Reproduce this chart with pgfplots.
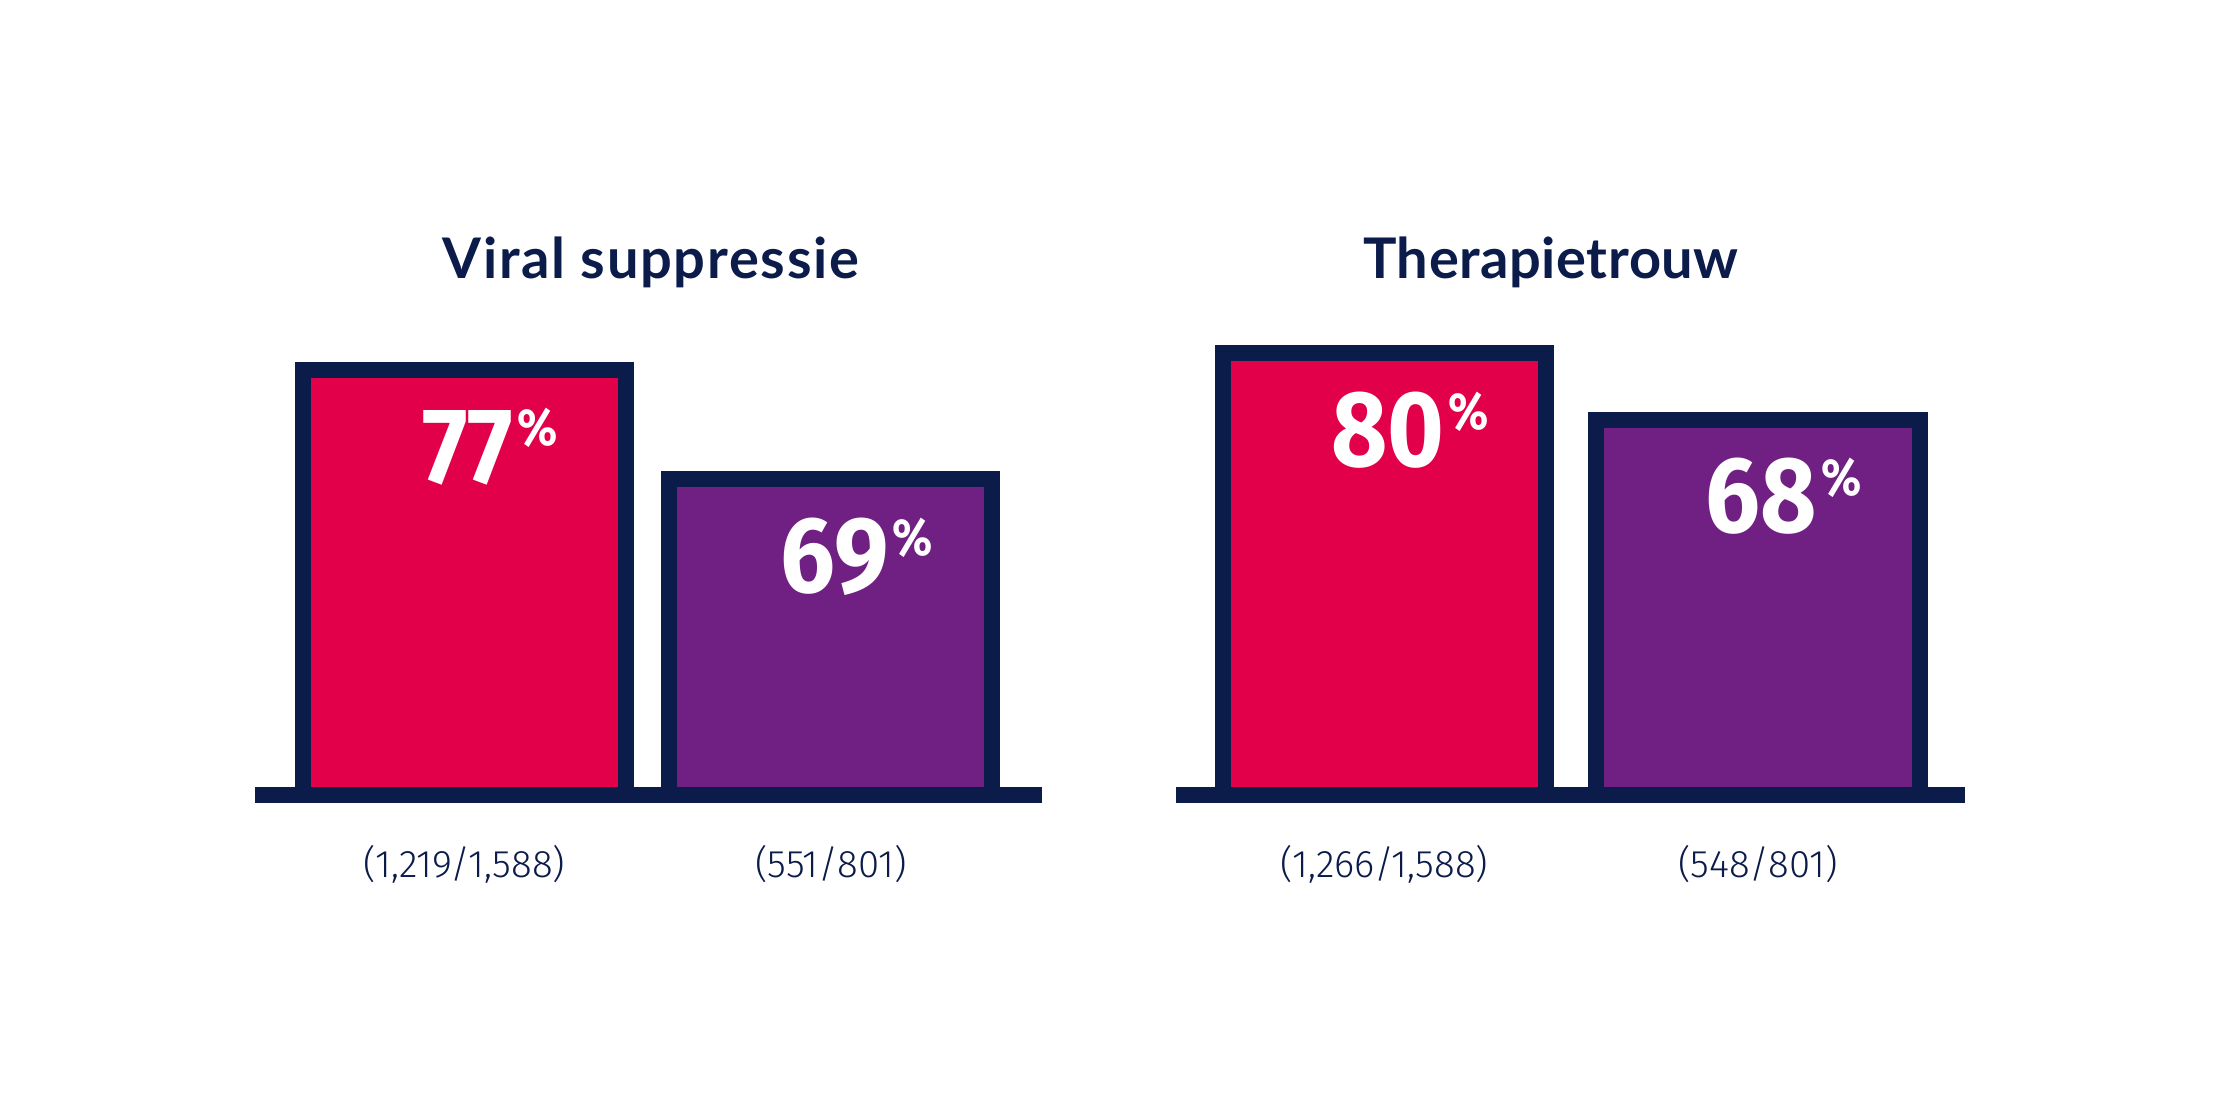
\documentclass[border=0pt]{standalone}
\usepackage{fontspec}
\setmainfont{Lato}
\newfontfamily\titlefont[LetterSpace=3]{Lato}
\newfontfamily\titlefontb[LetterSpace=1]{Lato}
\newfontfamily\numfont[FakeStretch=0.9, Numbers=Lining]{Fira Sans}
\newfontfamily\lightfont[Numbers=Lining]{Fira Sans Light}
\usepackage{pgfplots}
\pgfplotsset{compat=1.18}
\definecolor{navy}{HTML}{0B1B4A}
\definecolor{redc}{HTML}{E2004A}
\definecolor{purp}{HTML}{702082}
\pgfplotsset{panel/.style={
  ybar, y=1.38pt,
  ymin=0, ymax=100, clip=false, enlargelimits=false,
  axis x line*=bottom, axis y line=none,
  x axis line style={-, line width=4pt, draw=navy},
  xtick={0,1}, major tick length=0pt, ytick=\empty,
  xticklabel style={anchor=base, yshift=-20.75pt, inner sep=0pt,
     font=\lightfont\fontsize{9.6}{9.6}\selectfont, text=navy},
  bar width=80.75pt, bar shift=0pt,
  point meta=explicit symbolic,
  nodes near coords={\numfont\bfseries\fontsize{27}{27}\selectfont\pgfplotspointmeta\hspace{1.0pt}\raisebox{9.3pt}{\fontsize{13}{13}\selectfont\%}},
  nodes near coords align={below},
  every node near coord/.append style={yshift=-7.65pt, xshift=6.4pt, inner sep=0pt, text=white},
}}
\begin{document}
\begin{tikzpicture}
\fill[white] (0,0) rectangle (555pt,277.5pt);
% left panel
\begin{axis}[panel, x=91.625pt, xmin=-0.5716, xmax=1.5757,
  at={(63.75pt,78.75pt)}, anchor=south west,
  xticklabels={(1,219/1,588),(551/801)}]
\addplot[fill=redc, draw=navy, line width=4pt] coordinates {(0,77) [77]};
\addplot[fill=purp, draw=navy, line width=4pt] coordinates {(1,57.2) [69]};
\end{axis}
% right panel
\begin{axis}[panel, x=93.375pt, xmin=-0.5582, xmax=1.5542,
  at={(294pt,78.75pt)}, anchor=south west,
  xticklabels={(1,266/1,588),(548/801)}]
\addplot[fill=redc, draw=navy, line width=4pt] coordinates {(0,80) [80]};
\addplot[fill=purp, draw=navy, line width=4pt] coordinates {(1,68) [68]};
\end{axis}
\node[anchor=base, text=navy, font=\titlefont\bfseries\fontsize{14}{14}\selectfont] at (162.75pt,207.75pt) {Viral suppressie};
\node[anchor=base, text=navy, font=\titlefontb\bfseries\fontsize{14}{14}\selectfont] at (387.75pt,207.75pt) {Therapietrouw};
\pgfresetboundingbox
\path[use as bounding box] (0,0) rectangle (555pt,277.5pt);
\end{tikzpicture}
\end{document}
